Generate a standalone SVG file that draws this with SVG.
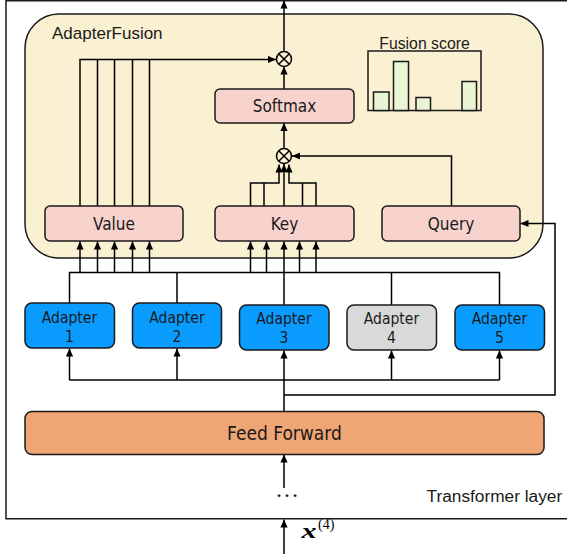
<svg xmlns="http://www.w3.org/2000/svg" width="567" height="554" viewBox="0 0 567 554">
<defs>
<marker id="ah" viewBox="0 0 10 10" refX="10" refY="5" markerWidth="8" markerHeight="8" markerUnits="userSpaceOnUse" orient="auto">
<path d="M0,0.5 L10,5 L0,9.5 Z" fill="#000"/>
</marker>
<style>
.ln{fill:none;stroke:#000;stroke-width:1.5}
.ar{fill:none;stroke:#000;stroke-width:1.5;marker-end:url(#ah)}
.box{stroke:#1a1a1a;stroke-width:1.5}
.pink{fill:#F8D3CE}
.blue{fill:#0A9BFF}
.gray{fill:#D9D9D9}
.t{font-family:"DejaVu Sans Condensed","DejaVu Sans",sans-serif;fill:#1a1a1a;text-anchor:middle}
.a{font-family:"Liberation Sans",Arial,sans-serif;fill:#1a1a1a}
.bar{fill:#E9F5D3;stroke:#1a1a1a;stroke-width:1.5}
</style>
</defs>
<rect id="transformer-layer" x="6" y="0.75" width="600" height="518" fill="#fff" stroke="#1a1a1a" stroke-width="1.5"/>
<text class="a" x="426.5" y="501.5" font-size="17.3">Transformer layer</text>
<g id="adapterfusion">
<rect x="25" y="14" width="518" height="244" rx="34" fill="#FAF0D2" stroke="#1a1a1a" stroke-width="1.5"/>
<text class="a" x="52" y="38.5" font-size="17">AdapterFusion</text>
</g>
<g id="fusion-score">
<text class="a" x="424.5" y="49" font-size="15.8" text-anchor="middle">Fusion score</text>
<rect x="368" y="51" width="113" height="59.5" fill="none" stroke="#1a1a1a" stroke-width="1.5"/>
<rect class="bar" x="373.5" y="92" width="15.5" height="18.5"/>
<rect class="bar" x="393.5" y="61.5" width="15" height="49"/>
<rect class="bar" x="416" y="97.5" width="14.5" height="13"/>
<rect class="bar" x="462" y="81.5" width="14.5" height="29"/>
</g>
<g id="connectors">
<path class="ar" d="M284 51 V0.5"/>
<path class="ar" d="M284 89 V66.5"/>
<path class="ar" d="M284 148.5 V123"/>
<path class="ar" d="M80 206 V59.5 H276"/>
<path class="ln" d="M97.5 206 V59.5 M114.5 206 V59.5 M132.5 206 V59.5 M149.5 206 V59.5"/>
<path class="ar" d="M250.5 206 V183 H279 V164.5"/>
<path class="ln" d="M264 206 V183 M302.5 206 V183"/>
<path class="ar" d="M284 206 V164"/>
<path class="ar" d="M316 206 V183 H289 V164.5"/>
<path class="ar" d="M451.5 206 V156 H292"/>
<path class="ar" d="M284 395 H555 V223.5 H520.5"/>
<path class="ln" d="M69.5 303 V272.5 H499.5 V305 M177 303 V272.5 M391.5 305 V272.5 M284 305 V272.5"/>
<path class="ar" d="M80 272.5 V241.5"/>
<path class="ar" d="M97.5 272.5 V241.5"/>
<path class="ar" d="M114.5 272.5 V241.5"/>
<path class="ar" d="M132.5 272.5 V241.5"/>
<path class="ar" d="M149.5 272.5 V241.5"/>
<path class="ar" d="M250.5 272.5 V241.5"/>
<path class="ar" d="M266.5 272.5 V241.5"/>
<path class="ar" d="M284 272.5 V241.5"/>
<path class="ar" d="M299.5 272.5 V241.5"/>
<path class="ar" d="M316 272.5 V241.5"/>
<path class="ln" d="M69.5 380 H499.5"/>
<path class="ar" d="M69.5 380 V348.5"/>
<path class="ar" d="M177 380 V348.5"/>
<path class="ar" d="M391.5 380 V350.5"/>
<path class="ar" d="M499.5 380 V350.5"/>
<path class="ar" d="M284 411.5 V350.5"/>
<path class="ar" d="M284 488 V454.5"/>
<path class="ar" d="M284 554 V519.5"/>
</g>
<g id="mult-top">
<circle cx="284" cy="59" r="7.5" fill="#FAF0D2" stroke="#000" stroke-width="1.5"/>
<path class="ln" d="M278.7 53.7 L289.3 64.3 M289.3 53.7 L278.7 64.3"/>
</g>
<g id="mult-bottom">
<circle cx="284" cy="156" r="7.5" fill="#FAF0D2" stroke="#000" stroke-width="1.5"/>
<path class="ln" d="M278.7 150.7 L289.3 161.3 M289.3 150.7 L278.7 161.3"/>
</g>
<g id="softmax">
<rect class="box pink" x="215" y="89" width="139" height="34" rx="5"/>
<text class="t" x="284.5" y="111.5" font-size="17">Softmax</text>
</g>
<g id="value">
<rect class="box pink" x="45" y="206" width="138" height="35" rx="5"/>
<text class="t" x="114" y="229.5" font-size="17">Value</text>
</g>
<g id="key">
<rect class="box pink" x="215" y="206" width="139" height="35" rx="5"/>
<text class="t" x="284.5" y="229.5" font-size="17">Key</text>
</g>
<g id="query">
<rect class="box pink" x="382" y="206" width="138" height="35" rx="5"/>
<text class="t" x="451" y="229.5" font-size="17">Query</text>
</g>
<g id="adapter1">
<rect class="box blue" x="25" y="303" width="89.5" height="45" rx="7"/>
<text class="t" x="69.5" y="322.5" font-size="15.5">Adapter</text>
<text class="t" x="69.5" y="341.5" font-size="15.5">1</text>
</g>
<g id="adapter2">
<rect class="box blue" x="132.5" y="303" width="89" height="45" rx="7"/>
<text class="t" x="177" y="322.5" font-size="15.5">Adapter</text>
<text class="t" x="177" y="341.5" font-size="15.5">2</text>
</g>
<g id="adapter3">
<rect class="box blue" x="239.5" y="305" width="89.5" height="45" rx="7"/>
<text class="t" x="284" y="324" font-size="15.5">Adapter</text>
<text class="t" x="284" y="342.5" font-size="15.5">3</text>
</g>
<g id="adapter4">
<rect class="box gray" x="347" y="305" width="89.5" height="45" rx="7"/>
<text class="t" x="391.5" y="324" font-size="15.5" fill="#333">Adapter</text>
<text class="t" x="391.5" y="342.5" font-size="15.5">4</text>
</g>
<g id="adapter5">
<rect class="box blue" x="455" y="305" width="89.5" height="45" rx="7"/>
<text class="t" x="499.5" y="324" font-size="15.5">Adapter</text>
<text class="t" x="499.5" y="342.5" font-size="15.5">5</text>
</g>
<g id="feed-forward">
<rect class="box" x="25" y="411.5" width="519" height="43" rx="7" fill="#F0A574"/>
<text class="t" x="284.5" y="440" font-size="19">Feed Forward</text>
</g>
<text x="287" y="497" font-family="'Liberation Serif',serif" font-size="24" text-anchor="middle" fill="#1a1a1a">…</text>
<text x="301.5" y="538" font-family="'Liberation Serif',serif" font-size="21" font-weight="bold" font-style="italic" fill="#000" textLength="15" lengthAdjust="spacingAndGlyphs">x</text>
<text x="318" y="529" font-family="'Liberation Serif',serif" font-size="14" fill="#000">(4)</text>
</svg>
